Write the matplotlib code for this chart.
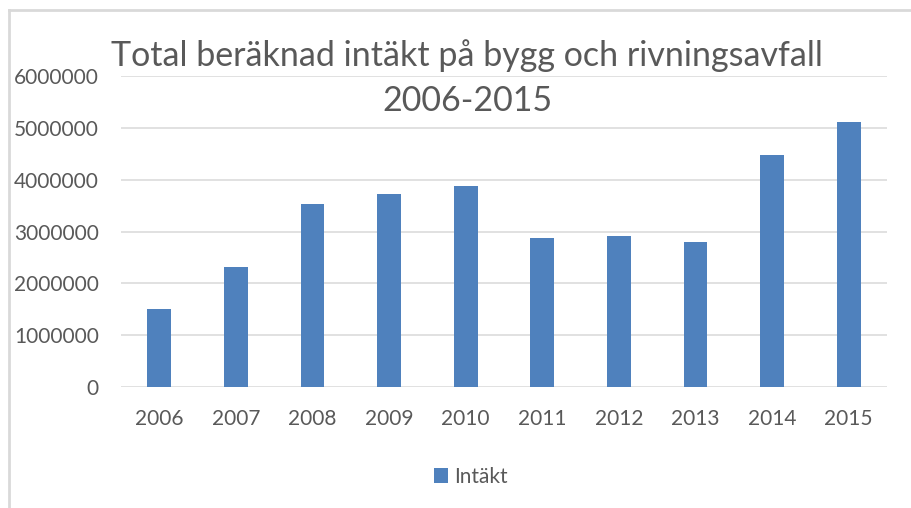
import matplotlib
matplotlib.use("Agg")
import matplotlib.pyplot as plt
from matplotlib.lines import Line2D

years = ["2006", "2007", "2008", "2009", "2010", "2011", "2012", "2013", "2014", "2015"]
intakt = [1500000, 2310000, 3530000, 3720000, 3870000, 2870000, 2910000, 2790000, 4470000, 5110000]
yticks = [0, 1000000, 2000000, 3000000, 4000000, 5000000, 6000000]
title1 = "Total beräknad intäkt på bygg och rivningsavfall"
title2 = "2006-2015"
series_name = "Intäkt"

W, H = 911, 508
plt.rcParams['font.family'] = ['Lato', 'DejaVu Sans']
txt = '#595959'
bar_c = '#4F81BD'
grid_c = '#D9D9D9'

fig = plt.figure(figsize=(W / 100, H / 100), dpi=100)
fig.patch.set_facecolor('white')

def fx(px):
    return px / W

def fy(py):
    return 1 - py / H

ax = fig.add_axes([fx(121), fy(387), fx(887) - fx(121), fy(76) - fy(387)])
x = list(range(len(years)))
ax.bar(x, intakt, width=0.31, color=bar_c, zorder=3, label=series_name)
ax.set_xlim(-0.5, len(years) - 0.5)
ax.set_ylim(0, 6000000)
ax.set_yticks(yticks)
ax.set_yticklabels([str(v) for v in yticks])
ax.set_xticks(x)
ax.set_xticklabels(years)
ax.grid(axis='y', color=grid_c, linewidth=1.1, zorder=0)
for s in ax.spines.values():
    s.set_visible(False)
ax.tick_params(axis='both', length=0, colors=txt, labelsize=15)
ax.tick_params(axis='y', pad=16)
ax.tick_params(axis='x', pad=16)

fig.text(fx(467), fy(66), title1, ha='center', va='baseline', fontsize=24.5, color=txt)
fig.text(fx(467), fy(111), title2, ha='center', va='baseline', fontsize=24.5, color=txt)

# chart border
fig.add_artist(Line2D([fx(9), fx(911)], [fy(10), fy(10)], color=grid_c, linewidth=2))
fig.add_artist(Line2D([fx(9), fx(9)], [fy(10), fy(508)], color=grid_c, linewidth=2))

h, l = ax.get_legend_handles_labels()
leg = fig.legend(h, l, loc='center', bbox_to_anchor=(fx(471), fy(477)), frameon=False,
                 fontsize=15, handlelength=0.7, handleheight=0.7, handletextpad=0.3,
                 labelcolor=txt)

fig.savefig('out.png', dpi=100, facecolor='white')
